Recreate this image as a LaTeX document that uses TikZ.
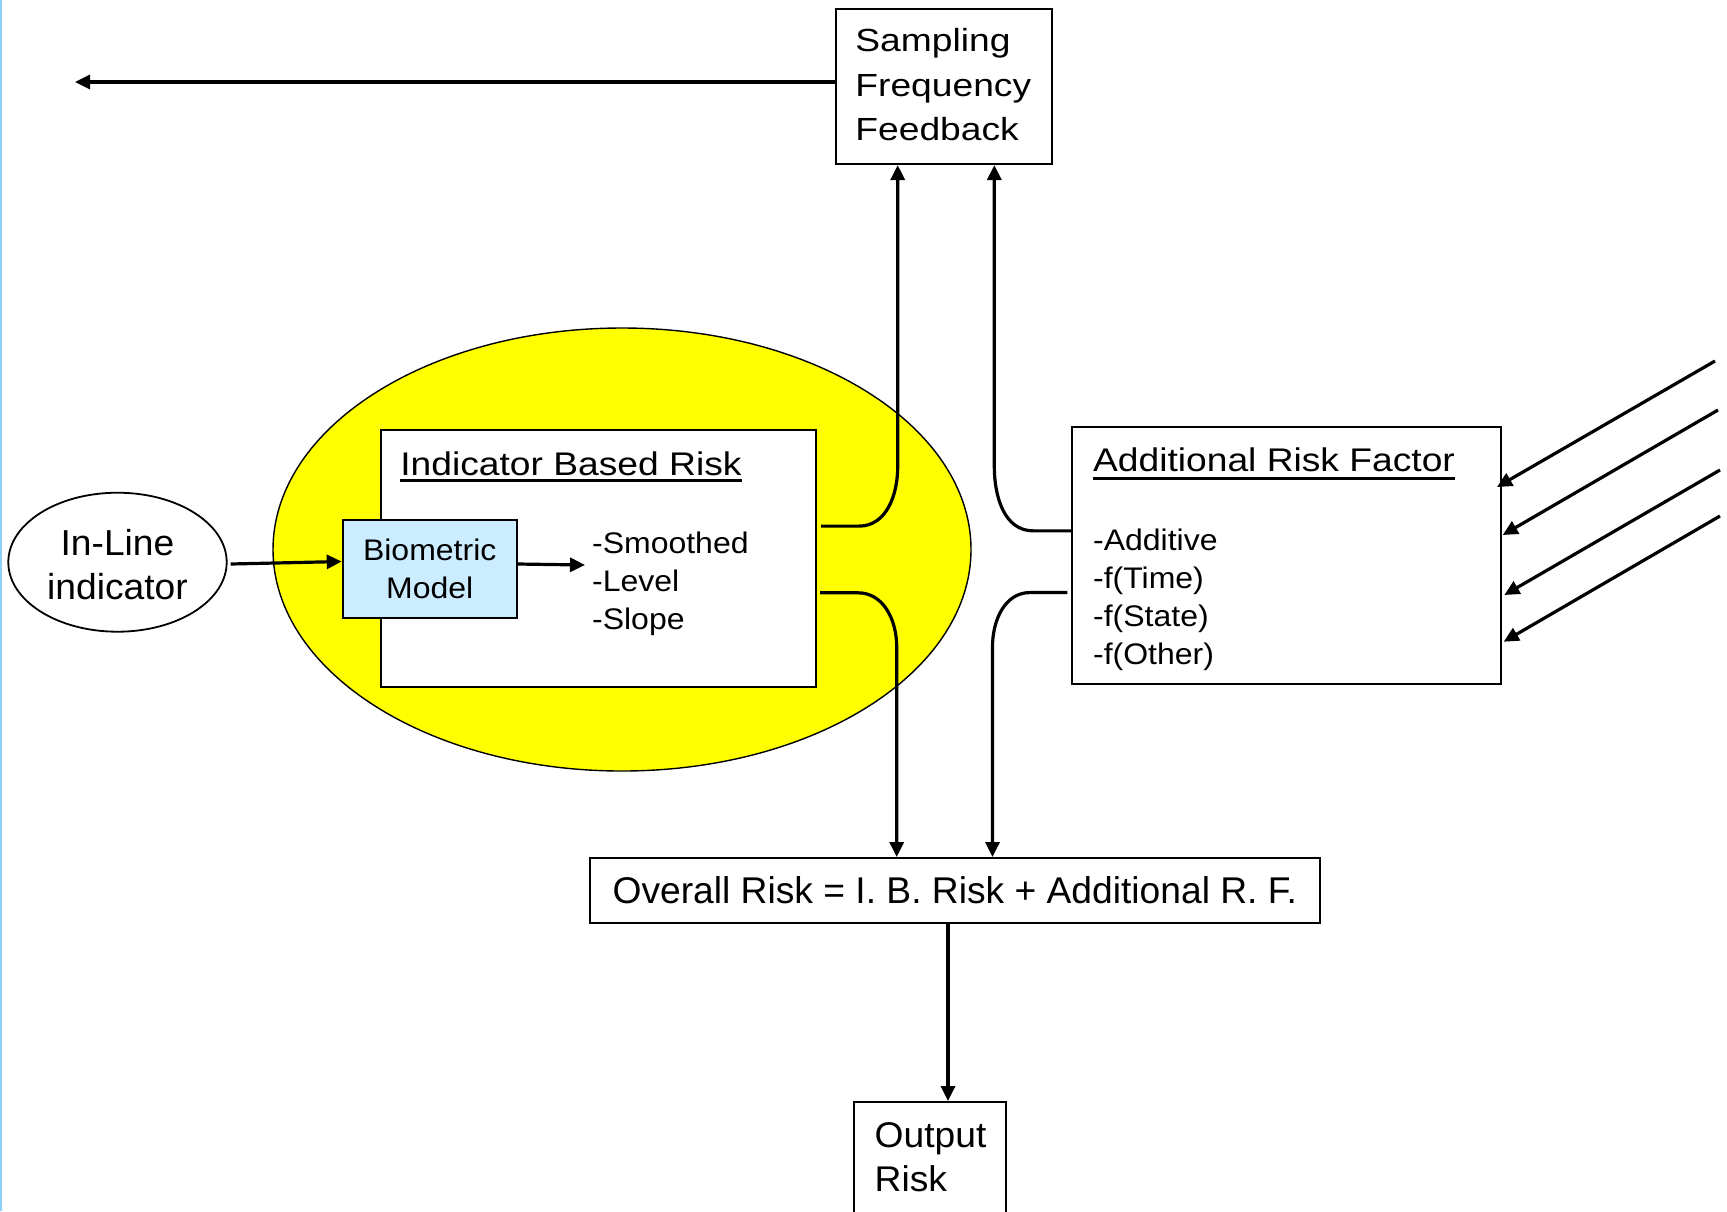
\documentclass[tikz,border=0pt]{standalone}
\usepackage{fontspec}
\usepackage{graphicx}
\setmainfont{Liberation Sans}
\usetikzlibrary{arrows.meta,calc,shapes.geometric}
\definecolor{riskyellow}{RGB}{255,255,0}
\definecolor{modelblue}{RGB}{204,236,255}
\definecolor{edgeblue}{RGB}{140,210,245}
% text lines set a little lower than their width would give
\newcommand{\vsq}[2]{\scalebox{1}[#1]{#2}}
\begin{document}
\begin{tikzpicture}[x=0.5pt,y=-0.5pt,
  frame/.style={draw=black,line width=1pt,inner sep=0pt},
  big/.style={inner sep=0pt,font=\fontsize{18.6}{22}\selectfont},
  small/.style={inner sep=0pt,font=\fontsize{16}{19}\selectfont},
  link/.style={line width=1.6pt,-{Triangle[length=7.5pt,width=7pt]}},
  uline/.style={line width=1.3pt},
]
\useasboundingbox (0,0) rectangle (1727,1211);
\clip (0,0) rectangle (1727,1211);
\fill[white] (0,0) rectangle (1727,1211);
\draw[edgeblue,line width=1pt] (1,0) -- (1,1211);

% yellow zone around the indicator based risk block
\node[ellipse, draw, line width=0.7pt, fill=riskyellow, inner sep=0pt,
      minimum width=349pt, minimum height=221.5pt] (zone) at (622,549.5) {};

% boxes
\node[frame, fill=white, minimum width=217.5pt, minimum height=128.35pt] (ibr) at (598.5,558.35) {};
\node[frame, fill=modelblue, minimum width=87pt, minimum height=48.75pt] (bio) at (429.7,568.75) {};
\node[ellipse, draw, line width=0.9pt, inner sep=0pt,
      minimum width=109.2pt, minimum height=69.5pt] (inl) at (117.5,562.2) {};
\node[frame, minimum width=108pt, minimum height=77.35pt] (sfb) at (944,86.65) {};
\node[frame, minimum width=214.2pt, minimum height=128.65pt] (arf) at (1286.5,555.35) {};
\node[frame, big, minimum width=364.75pt, minimum height=32.5pt] (ovr) at (954.75,890.5)
  {Overall Risk = I. B. Risk + Additional R. F.};
\node[frame, minimum width=75.7pt, minimum height=69pt] (out) at (930,1171) {};

% texts
\node[big, anchor=base west] (sfb1) at (855,51) {\vsq{0.86}{Sampling}};
\node[big, anchor=base west] (sfb2) at (855,96) {\vsq{0.86}{Frequency}};
\node[big, anchor=base west] (sfb3) at (855,140.5) {\vsq{0.86}{Feedback}};

\node[big, anchor=base] (inl1) at (117.5,555) {\vsq{0.97}{In-Line}};
\node[big, anchor=base] (inl2) at (117.5,599) {\vsq{0.97}{indicator}};

\node[small, anchor=base] (bio1) at (429.7,560) {\vsq{0.93}{Biometric}};
\node[small, anchor=base] (bio2) at (429.7,598) {\vsq{0.93}{Model}};

\node[big, anchor=base west] (ibrt) at (400,475) {\vsq{0.88}{Indicator Based Risk}};
\draw[uline] ($(ibrt.base west)+(0,5.5)$) -- ($(ibrt.base east)+(0,5.5)$);
\node[small, anchor=base west] (ibr1) at (591.7,553.5) {\vsq{0.93}{-Smoothed}};
\node[small, anchor=base west] (ibr2) at (591.7,591.5) {\vsq{0.93}{-Level}};
\node[small, anchor=base west] (ibr3) at (591.7,629) {\vsq{0.93}{-Slope}};

\node[big, anchor=base west] (arft) at (1092.7,471) {\vsq{0.88}{Additional Risk Factor}};
\draw[uline] ($(arft.base west)+(0,7.5)$) -- ($(arft.base east)+(0,7.5)$);
\node[small, anchor=base west] (arf1) at (1092.7,550.5) {\vsq{0.93}{-Additive}};
\node[small, anchor=base west] (arf2) at (1092.7,588.5) {\vsq{0.93}{-f(Time)}};
\node[small, anchor=base west] (arf3) at (1092.7,626.5) {\vsq{0.93}{-f(State)}};
\node[small, anchor=base west] (arf4) at (1092.7,664) {\vsq{0.93}{-f(Other)}};

\node[big, anchor=base west] (out1) at (874.3,1147) {\vsq{0.96}{Output}};
\node[big, anchor=base west] (out2) at (874.3,1191) {\vsq{0.96}{Risk}};

% free ends
\coordinate (fbend) at (75,82);
\coordinate (lst) at (585,565);
\coordinate (d1) at (1715,361);
\coordinate (d2) at (1718,410);
\coordinate (d3) at (1720,470);
\coordinate (d4) at (1720,516);

% straight connectors
\draw[link] ($(sfb.west)+(0,-4.65)$) -- (fbend);
\draw[link] ($(inl.east)+(3,1.8)$) -- ($(bio.west)+(0,-7.25)$);
\draw[link] ($(bio.east)+(0,-4.75)$) -- (lst);
\draw[link] ($(ovr.south)+(-6.75,0)$) coordinate (o1) -- (o1 |- out.north);

% incoming factors
\draw[link] (d1) -- ($(arf.east)+(-4.7,-68.35)$);
\draw[link] (d2) -- ($(arf.east)+(1,-20.35)$);
\draw[link] (d3) -- ($(arf.east)+(2.6,39.65)$);
\draw[link] (d4) -- ($(arf.east)+(2,86.35)$);

% bent connectors to the feedback and overall boxes
\draw[link] ($(ibr.east)+(4,-32.25)$) -- ++(38,0)
  to[out=0,in=-90] ++(38.7,-59.3) coordinate (c1) -- (c1 |- sfb.south);
\draw[link] ($(ibr.east)+(3,34.45)$) -- ++(38,0)
  to[out=0,in=90] ++(38.7,54) coordinate (c2) -- (c2 |- ovr.north);
\draw[link] ($(arf.west)+(0,-24.5)$) -- ++(-38,0)
  to[out=180,in=-90] ++(-39,-64.3) coordinate (c3) -- (c3 |- sfb.south);
\draw[link] ($(arf.west)+(-4,37.2)$) -- ++(-37.3,0)
  to[out=180,in=90] ++(-37.5,54) coordinate (c4) -- (c4 |- ovr.north);
\end{tikzpicture}
\end{document}
